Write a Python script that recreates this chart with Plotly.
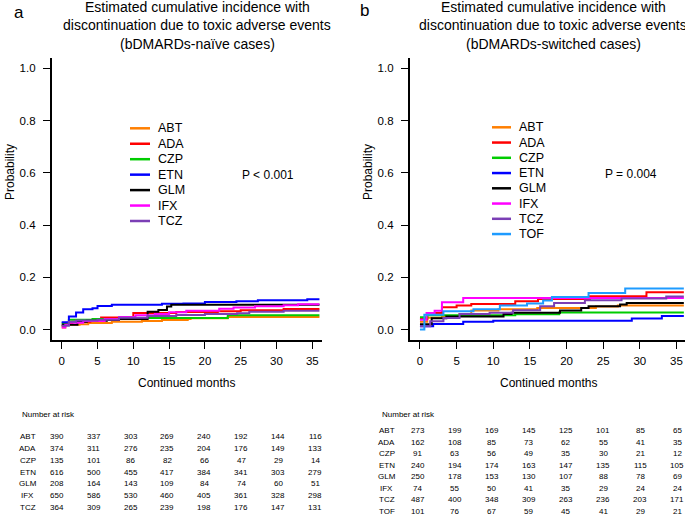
import plotly.graph_objects as go

W, H = 685, 518
FONT = "Liberation Sans, Arial, Helvetica, sans-serif"

# ---------------- data ----------------
drugs_naive = ["ABT", "ADA", "CZP", "ETN", "GLM", "IFX", "TCZ"]
drugs_switched = ["ABT", "ADA", "CZP", "ETN", "GLM", "IFX", "TCZ", "TOF"]
drug_colors = ["#FF7F00", "#FF0000", "#00CC00", "#0000FF", "#000000", "#FF00FF", "#7B3FB5", "#1E9BFF"]

month_ticks = [0, 5, 10, 15, 20, 25, 30, 35]
prob_ticks = [0.0, 0.2, 0.4, 0.6, 0.8, 1.0]
prob_tick_text = ["0.0", "0.2", "0.4", "0.6", "0.8", "1.0"]

# panel a: bDMARDs-naive cumulative incidence (step curves)
naive_abt_t = [0, 0.5, 2.5, 3.7, 7, 11.2, 14, 17.6, 18, 23.2, 36]
naive_abt_p = [0.008, 0.018, 0.020, 0.025, 0.030, 0.033, 0.037, 0.040, 0.043, 0.048, 0.048]
naive_ada_t = [0, 0.5, 1.5, 4, 5.5, 10, 16, 21.8, 25, 31, 36]
naive_ada_p = [0.015, 0.025, 0.030, 0.035, 0.046, 0.063, 0.067, 0.070, 0.074, 0.079, 0.079]
naive_czp_t = [0, 1, 4.3, 10, 23.2, 36]
naive_czp_p = [0.025, 0.038, 0.040, 0.044, 0.055, 0.055]
naive_etn_t = [0, 1, 2, 3, 4.3, 5, 7, 14, 17, 20, 24.4, 27.4, 34.3, 36]
naive_etn_p = [0.028, 0.050, 0.065, 0.078, 0.082, 0.090, 0.095, 0.099, 0.100, 0.106, 0.108, 0.112, 0.116, 0.116]
naive_glm_t = [0, 2.2, 3.5, 6.3, 8, 12, 13.5, 14.7, 15.3, 36]
naive_glm_p = [0.018, 0.030, 0.034, 0.037, 0.040, 0.068, 0.075, 0.088, 0.095, 0.095]
naive_ifx_t = [0, 0.5, 1, 3, 6, 8, 10.3, 13, 15, 17.4, 22, 24, 27, 31, 33, 36]
naive_ifx_p = [0.008, 0.018, 0.026, 0.033, 0.040, 0.048, 0.055, 0.060, 0.066, 0.072, 0.080, 0.084, 0.089, 0.093, 0.097, 0.097]
naive_tcz_t = [0, 1, 2, 5, 8, 12, 16, 20, 24.5, 26.2, 31, 36]
naive_tcz_p = [0.015, 0.030, 0.035, 0.038, 0.045, 0.052, 0.056, 0.060, 0.062, 0.068, 0.072, 0.072]

# panel b: bDMARDs-switched cumulative incidence (step curves)
sw_abt_t = [0, 1, 3, 5.4, 7, 10.7, 16, 24, 27, 36]
sw_abt_p = [0.030, 0.045, 0.052, 0.060, 0.073, 0.078, 0.083, 0.088, 0.092, 0.092]
sw_ada_t = [0, 1, 3, 5, 7, 13, 16.1, 23.2, 30.9, 36]
sw_ada_p = [0.040, 0.063, 0.085, 0.092, 0.098, 0.108, 0.117, 0.128, 0.143, 0.143]
sw_czp_t = [0, 1, 13, 19, 36]
sw_czp_p = [0.047, 0.055, 0.059, 0.065, 0.065]
sw_etn_t = [0, 1.8, 5.9, 10, 28.9, 33, 36]
sw_etn_p = [0.013, 0.021, 0.030, 0.034, 0.042, 0.052, 0.052]
sw_glm_t = [0, 1.6, 3.6, 11.4, 12.5, 19.1, 22, 23, 27.3, 28.2, 36]
sw_glm_p = [0.020, 0.043, 0.050, 0.060, 0.064, 0.073, 0.083, 0.089, 0.096, 0.102, 0.102]
sw_ifx_t = [0, 0.9, 2, 3, 5.9, 36]
sw_ifx_p = [0.038, 0.063, 0.072, 0.105, 0.121, 0.121]
sw_tcz_t = [0, 1.4, 3.2, 5.4, 9.5, 12.7, 16.4, 18.3, 22.5, 27.5, 33.6, 36]
sw_tcz_p = [0.013, 0.032, 0.044, 0.060, 0.064, 0.074, 0.089, 0.102, 0.112, 0.119, 0.127, 0.127]
sw_tof_t = [0, 0.6, 3.2, 7.3, 10.9, 14.6, 16.8, 18, 23, 28, 36]
sw_tof_p = [0.000, 0.057, 0.070, 0.078, 0.092, 0.100, 0.111, 0.125, 0.140, 0.157, 0.157]

# numbers at risk
risk_naive_abt = [390, 337, 303, 269, 240, 192, 144, 116]
risk_naive_ada = [374, 311, 276, 235, 204, 176, 149, 133]
risk_naive_czp = [135, 101, 86, 82, 66, 47, 29, 14]
risk_naive_etn = [616, 500, 455, 417, 384, 341, 303, 279]
risk_naive_glm = [208, 164, 143, 109, 84, 74, 60, 51]
risk_naive_ifx = [650, 586, 530, 460, 405, 361, 328, 298]
risk_naive_tcz = [364, 309, 265, 239, 198, 176, 147, 131]

risk_sw_abt = [273, 199, 169, 145, 125, 101, 85, 65]
risk_sw_ada = [162, 108, 85, 73, 62, 55, 41, 35]
risk_sw_czp = [91, 63, 56, 49, 35, 30, 21, 12]
risk_sw_etn = [240, 194, 174, 163, 147, 135, 115, 105]
risk_sw_glm = [250, 178, 153, 130, 107, 88, 78, 69]
risk_sw_ifx = [74, 55, 50, 41, 35, 29, 24, 24]
risk_sw_tcz = [487, 400, 348, 309, 263, 236, 203, 171]
risk_sw_tof = [101, 76, 67, 59, 45, 41, 29, 21]

naive_curves = [(naive_abt_t, naive_abt_p), (naive_ada_t, naive_ada_p), (naive_czp_t, naive_czp_p),
                (naive_etn_t, naive_etn_p), (naive_glm_t, naive_glm_p), (naive_ifx_t, naive_ifx_p),
                (naive_tcz_t, naive_tcz_p)]
sw_curves = [(sw_abt_t, sw_abt_p), (sw_ada_t, sw_ada_p), (sw_czp_t, sw_czp_p), (sw_etn_t, sw_etn_p),
             (sw_glm_t, sw_glm_p), (sw_ifx_t, sw_ifx_p), (sw_tcz_t, sw_tcz_p), (sw_tof_t, sw_tof_p)]
naive_risk = [risk_naive_abt, risk_naive_ada, risk_naive_czp, risk_naive_etn,
              risk_naive_glm, risk_naive_ifx, risk_naive_tcz]
sw_risk = [risk_sw_abt, risk_sw_ada, risk_sw_czp, risk_sw_etn, risk_sw_glm,
           risk_sw_ifx, risk_sw_tcz, risk_sw_tof]


def px(x):
    return x / W


def py(y):
    return 1 - y / H


fig = go.Figure()

for name, col, (t, p) in zip(drugs_naive, drug_colors, naive_curves):
    fig.add_trace(go.Scatter(x=t, y=p, mode="lines", name=name, showlegend=False,
                             line=dict(color=col, width=2, shape="hv"), xaxis="x", yaxis="y",
                             hoverinfo="skip"))
for name, col, (t, p) in zip(drugs_switched, drug_colors, sw_curves):
    fig.add_trace(go.Scatter(x=t, y=p, mode="lines", name=name, showlegend=False,
                             line=dict(color=col, width=2, shape="hv"), xaxis="x2", yaxis="y2",
                             hoverinfo="skip"))

axis_common = dict(showgrid=False, zeroline=False, showline=True, linecolor="black", linewidth=1.6,
                   ticks="outside", ticklen=7, tickwidth=1.4, tickcolor="black",
                   tickfont=dict(family=FONT, size=11.5, color="black"))

ydom = [py(340), py(58)]
fig.update_layout(
    width=W, height=H, margin=dict(l=0, r=0, t=0, b=0),
    paper_bgcolor="white", plot_bgcolor="white",
    font=dict(family=FONT, color="black"),
    xaxis=dict(domain=[px(51.7), px(322.3)], range=[-1.4, 36.4], tickvals=month_ticks,
               anchor="y", ticklabelstandoff=2, **axis_common),
    yaxis=dict(domain=ydom, range=[-0.04, 1.04], tickvals=prob_ticks, ticktext=prob_tick_text,
               anchor="x", ticklabelstandoff=5, **axis_common),
    xaxis2=dict(domain=[px(409.7), 1.0], range=[-1.4, -1.4 + (W - 409.7) / 7.33], tickvals=month_ticks,
                anchor="y2", ticklabelstandoff=2, **axis_common),
    yaxis2=dict(domain=ydom, range=[-0.04, 1.04], tickvals=prob_ticks, ticktext=prob_tick_text,
                anchor="x2", ticklabelstandoff=5, **axis_common),
)

ann = []
shapes = []


def text(x, y, s, size, xanchor="center", yanchor="middle", angle=0):
    ann.append(dict(x=px(x), y=py(y), xref="paper", yref="paper", text=s, showarrow=False,
                    xanchor=xanchor, yanchor=yanchor, textangle=angle,
                    font=dict(family=FONT, size=size, color="black")))


# titles
title_a = ["Estimated cumulative incidence with", "discontinuation due to toxic adverse events",
           "(bDMARDs-naïve cases)"]
title_b = ["Estimated cumulative incidence with", "discontinuation due to toxic adverse events",
           "(bDMARDs-switched cases)"]
for i, s in enumerate(title_a):
    text(197, 7 + 18.3 * i, s, 14)
for i, s in enumerate(title_b):
    text(553, 7 + 18.3 * i, s, 14)
text(19, 13, "a", 17)
text(364, 11, "b", 17)

# axis titles
text(10, 172, "Probability", 12, angle=-90)
text(368, 172, "Probability", 12, angle=-90)
text(187, 383, "Continued months", 12)
text(548, 383, "Continued months", 12)

# legends
for i, (name, col) in enumerate(zip(drugs_naive, drug_colors)):
    y = 128.3 + 15.45 * i
    shapes.append(dict(type="line", xref="paper", yref="paper", x0=px(130), x1=px(150), y0=py(y), y1=py(y),
                       line=dict(color=col, width=2.5)))
    text(156, y, name, 12.5, xanchor="left")
for i, (name, col) in enumerate(zip(drugs_switched, drug_colors)):
    y = 127.3 + 15.25 * i
    shapes.append(dict(type="line", xref="paper", yref="paper", x0=px(492), x1=px(511), y0=py(y), y1=py(y),
                       line=dict(color=col, width=2.5)))
    text(517, y, name, 12.5, xanchor="left")

text(268, 175, "P < 0.001", 12)
text(631, 174, "P = 0.004", 12)

# numbers at risk tables
text(20, 414, "Number at risk", 8, xanchor="left")
for r, (name, vals) in enumerate(zip(drugs_naive, naive_risk)):
    y = 436.7 + 11.8 * r
    text(27.5, y, name, 8)
    for c, v in enumerate(vals):
        text(56.7 + 36.9 * c, y, str(v), 8)

text(380, 414, "Number at risk", 8, xanchor="left")
for r, (name, vals) in enumerate(zip(drugs_switched, sw_risk)):
    y = 430.5 + 11.5 * r
    text(386.7, y, name, 8)
    for c, v in enumerate(vals):
        text(417.5 + 37.1 * c, y, str(v), 8)

fig.update_layout(annotations=ann, shapes=shapes)
fig.write_html(
    "out.html",
    config={"displayModeBar": False},
    post_script="document.body.style.margin='0';document.body.style.overflow='hidden';",
)
